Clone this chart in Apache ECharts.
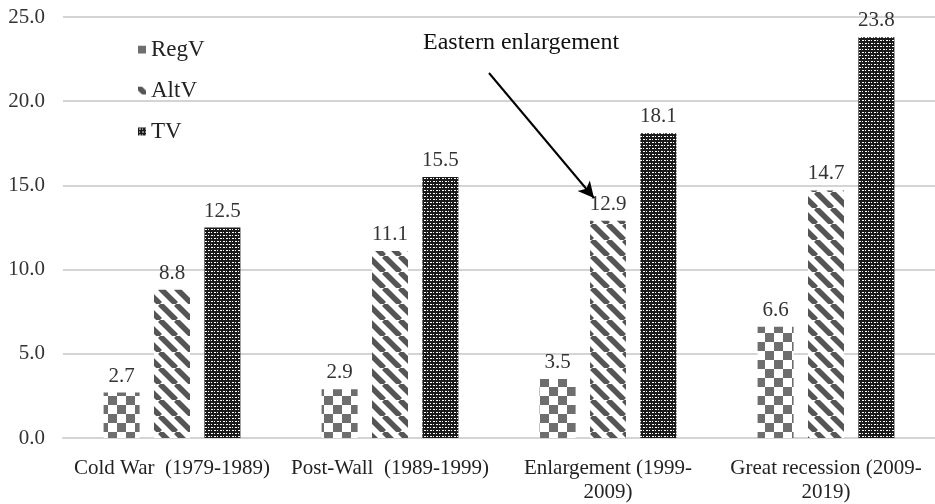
<!DOCTYPE html>
<html>
<head>
<meta charset="utf-8">
<script src="https://cdn.jsdelivr.net/npm/echarts@6/dist/echarts.min.js"></script>
<style>
  html, body { margin: 0; padding: 0; background: #fff; }
  #chart { width: 935px; height: 504px; }
</style>
</head>
<body>
<div id="chart"></div>
<script>
// categories and values
var categories = ['Cold War  (1979-1989)', 'Post-Wall  (1989-1999)', 'Enlargement (1999-\n2009)', 'Great recession (2009-\n2019)'];
var regV = [2.7, 2.9, 3.5, 6.6];
var altV = [8.8, 11.1, 12.9, 14.7];
var tv = [12.5, 15.5, 18.1, 23.8];
var yTicks = [0, 5, 10, 15, 20, 25];

var FONT = '"Liberation Serif", "DejaVu Serif", serif';

// fill patterns, drawn on small canvases
function makeTile(size, draw) {
    var c = document.createElement('canvas');
    c.width = size;
    c.height = size;
    draw(c.getContext('2d'), size);
    return { image: c, repeat: 'repeat' };
}

var checker = makeTile(18, function (ctx, s) {
    ctx.fillStyle = '#fff';
    ctx.fillRect(0, 0, s, s);
    ctx.fillStyle = '#6e6e6e';
    ctx.fillRect(0, 0, s / 2, s / 2);
    ctx.fillRect(s / 2, s / 2, s / 2, s / 2);
});

var stripes = makeTile(16, function (ctx, s) {
    ctx.fillStyle = '#fff';
    ctx.fillRect(0, 0, s, s);
    ctx.strokeStyle = '#555';
    ctx.lineWidth = 5.5;
    // "\" direction stripes
    for (var k = -1; k <= 1; k++) {
        ctx.beginPath();
        ctx.moveTo(k * s, 0);
        ctx.lineTo(k * s + s, s);
        ctx.stroke();
    }
});

var dots = makeTile(6, function (ctx, s) {
    ctx.fillStyle = '#1a1a1a';
    ctx.fillRect(0, 0, s, s);
    ctx.fillStyle = '#fff';
    ctx.fillRect(1, 1, 2, 1);
    ctx.fillRect(4, 4, 2, 1);
    ctx.fillRect(1, 4, 1, 1);
    ctx.fillRect(4, 1, 1, 1);
});

var labelStyle = {
    show: true,
    position: 'top',
    distance: 6,
    fontFamily: FONT,
    fontSize: 21,
    color: '#333',
    formatter: function (p) { return p.value.toFixed(1); }
};

var chart = echarts.init(document.getElementById('chart'));

var option = {
    animation: false,
    backgroundColor: '#fff',
    textStyle: { fontFamily: FONT },
    grid: { left: 63, right: 0, top: 17, bottom: 66 },
    legend: {
        orient: 'vertical',
        left: 133,
        top: 33,
        itemWidth: 8,
        itemHeight: 8,
        itemGap: 18,
        icon: 'rect',
        textStyle: { fontFamily: FONT, fontSize: 23, color: '#222' },
        data: ['RegV', 'AltV', 'TV']
    },
    xAxis: {
        type: 'category',
        data: categories,
        axisLine: { lineStyle: { color: '#d4d4d4', width: 2 } },
        axisTick: { show: false },
        axisLabel: {
            fontFamily: FONT,
            fontSize: 21,
            color: '#222',
            margin: 18,
            lineHeight: 24,
            interval: 0,
            align: 'center'
        }
    },
    yAxis: {
        type: 'value',
        min: yTicks[0],
        max: yTicks[yTicks.length - 1],
        interval: 5,
        axisLine: { show: false },
        axisTick: { show: false },
        splitLine: { lineStyle: { color: '#d4d4d4', width: 2 } },
        axisLabel: {
            fontFamily: FONT,
            fontSize: 21,
            color: '#333',
            margin: 18,
            formatter: function (v) { return v.toFixed(1); }
        }
    },
    series: [
        {
            name: 'RegV',
            type: 'bar',
            data: regV,
            barWidth: 36,
            barGap: '40%',
            itemStyle: { color: checker },
            label: labelStyle
        },
        {
            name: 'AltV',
            type: 'bar',
            data: altV,
            barWidth: 36,
            barGap: '40%',
            itemStyle: { color: stripes },
            label: labelStyle
        },
        {
            name: 'TV',
            type: 'bar',
            data: tv,
            barWidth: 36,
            barGap: '40%',
            itemStyle: { color: dots },
            label: labelStyle,
            // annotation arrow
            markLine: {
                silent: true,
                symbol: ['none', 'arrow'],
                symbolSize: [12, 16],
                label: { show: false },
                lineStyle: { color: '#000', width: 2, type: 'solid' },
                data: [[{ x: 489, y: 73 }, { x: 594, y: 198 }]]
            }
        }
    ],
    graphic: [{
        type: 'text',
        left: 423,
        top: 31,
        style: {
            text: 'Eastern enlargement',
            font: '24px ' + FONT,
            fill: '#111'
        }
    }]
};

chart.setOption(option);
</script>
</body>
</html>
